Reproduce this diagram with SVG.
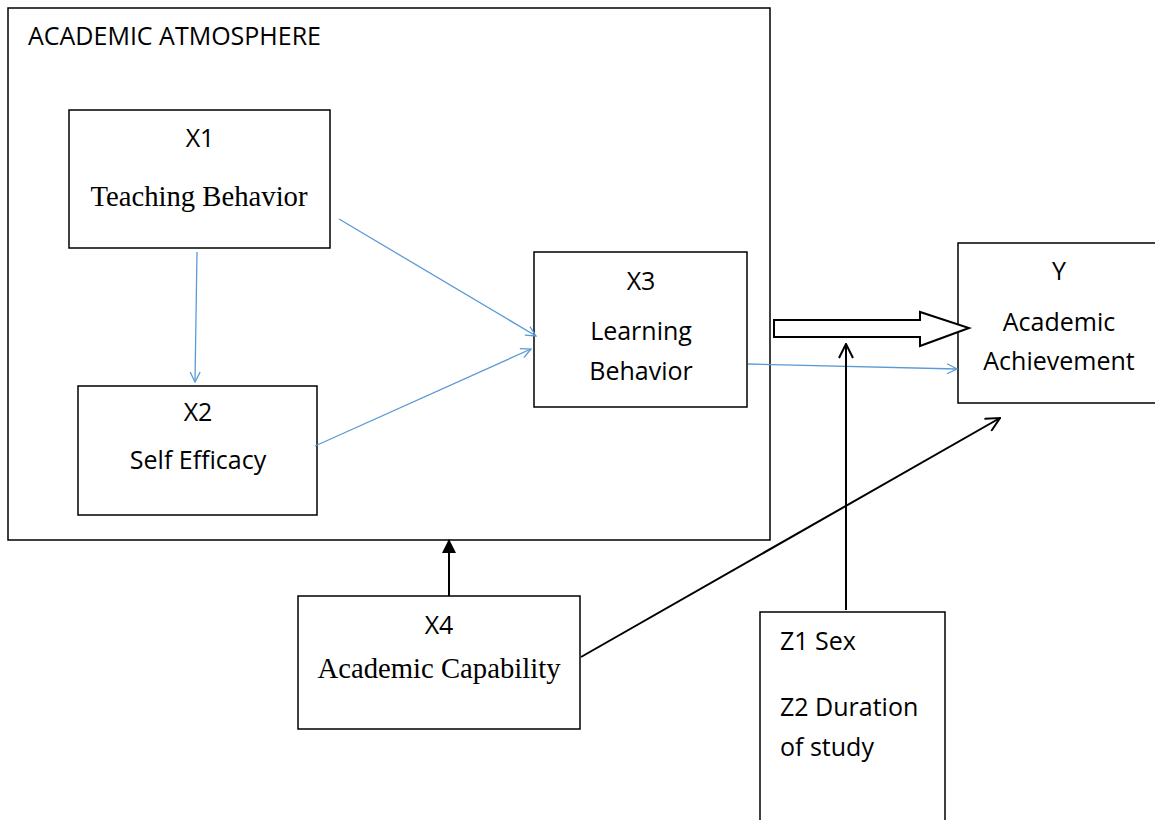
<svg xmlns="http://www.w3.org/2000/svg" width="1155" height="820" viewBox="0 0 1155 820">
<defs>
<style>
.box{fill:#fff;stroke:#000;stroke-width:1.5}
.sans{font-family:"Open Sans","Liberation Sans",sans-serif;font-size:25px;fill:#000}
.serif{font-family:"Liberation Serif",serif;font-size:28.7px;fill:#000}
.blue{stroke:#5b9bd5;stroke-width:1.3;fill:none}
.blk{stroke:#000;stroke-width:2;fill:none}
</style>
<marker id="ob" viewBox="0 0 12 12" refX="11" refY="6" markerWidth="12" markerHeight="12" markerUnits="userSpaceOnUse" orient="auto"><path d="M1,1 L11,6 L1,11" fill="none" stroke="#5b9bd5" stroke-width="1.3"/></marker>
<marker id="ok" viewBox="0 0 16 16" refX="15" refY="8" markerWidth="16" markerHeight="16" markerUnits="userSpaceOnUse" orient="auto"><path d="M1,1 L15,8 L1,15" fill="none" stroke="#000" stroke-width="2"/></marker>
<marker id="fk" viewBox="0 0 14 14" refX="13" refY="7" markerWidth="14" markerHeight="14" markerUnits="userSpaceOnUse" orient="auto"><path d="M0,0 L14,7 L0,14 Z" fill="#000"/></marker>
</defs>
<g id="atmosphere">
<rect class="box" x="8" y="8" width="762" height="532"/>
<text class="sans" x="28" y="45">ACADEMIC ATMOSPHERE</text>
</g>
<g id="x1">
<rect class="box" x="69" y="110" width="261" height="138"/>
<text class="sans" x="200" y="147" text-anchor="middle">X1</text>
<text class="serif" x="199" y="206" text-anchor="middle">Teaching Behavior</text>
</g>
<g id="x2">
<rect class="box" x="78" y="386" width="239" height="129"/>
<text class="sans" x="198" y="421" text-anchor="middle">X2</text>
<text class="sans" x="198" y="469" text-anchor="middle">Self Efficacy</text>
</g>
<g id="x3">
<rect class="box" x="534" y="252" width="213" height="155"/>
<text class="sans" x="641" y="290" text-anchor="middle">X3</text>
<text class="sans" x="641" y="340" text-anchor="middle">Learning</text>
<text class="sans" x="641" y="380" text-anchor="middle">Behavior</text>
</g>
<g id="y">
<rect class="box" x="958" y="243" width="210" height="160"/>
<text class="sans" x="1059" y="280" text-anchor="middle">Y</text>
<text class="sans" x="1059" y="331" text-anchor="middle">Academic</text>
<text class="sans" x="1059" y="370" text-anchor="middle">Achievement</text>
</g>
<g id="x4">
<rect class="box" x="298" y="596" width="282" height="133"/>
<text class="sans" x="439" y="634" text-anchor="middle">X4</text>
<text class="serif" x="439" y="678" text-anchor="middle">Academic Capability</text>
</g>
<g id="z">
<rect class="box" x="760" y="612" width="185" height="230"/>
<text class="sans" x="780" y="650">Z1 Sex</text>
<text class="sans" x="780" y="716">Z2 Duration</text>
<text class="sans" x="780" y="756">of study</text>
</g>
<g id="connectors">
<line class="blue" x1="197" y1="252" x2="195" y2="382" marker-end="url(#ob)"/>
<line class="blue" x1="339" y1="219" x2="536" y2="336" marker-end="url(#ob)"/>
<line class="blue" x1="315" y1="446" x2="531" y2="349" marker-end="url(#ob)"/>
<line class="blue" x1="748" y1="364" x2="957" y2="369" marker-end="url(#ob)"/>
<polygon points="774,320 920,320 920,312 969,328 920,346 920,337 774,337" fill="#fff" stroke="#000" stroke-width="2"/>
<line class="blk" x1="846" y1="610" x2="846" y2="344" marker-end="url(#ok)"/>
<line class="blk" x1="581" y1="657" x2="1000" y2="418" marker-end="url(#ok)"/>
<line class="blk" x1="449" y1="596" x2="449" y2="540" marker-end="url(#fk)"/>
</g>
</svg>
